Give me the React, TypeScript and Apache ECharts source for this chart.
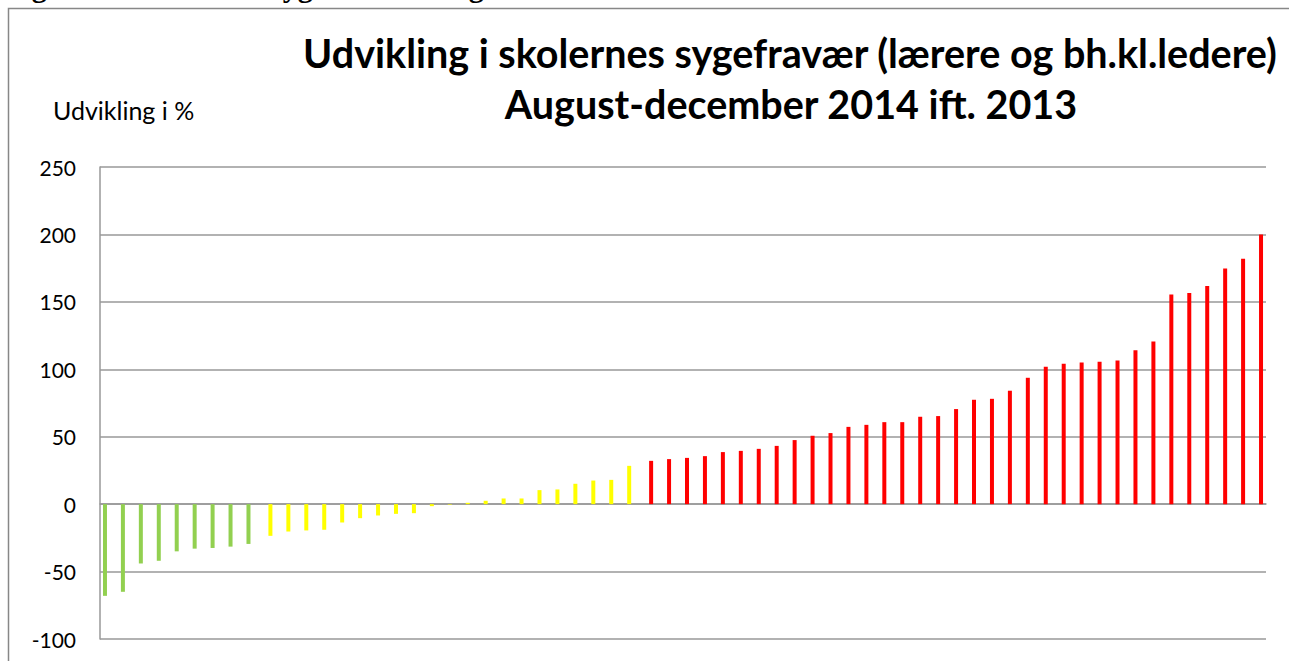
import React, { useEffect, useRef } from "react";
import * as echarts from "echarts";

const greenValues = [-68, -65, -44, -42, -35, -33, -32.5, -31.5, -29.5];
const yellowValues = [
  -23.5, -20.3, -19.5, -19, -13.6, -10.4, -8.4, -7.2, -6.7, -1.5, -0.4, 1, 2.5,
  4.2, 4.2, 10.4, 10.9, 15.1, 17.5, 18, 28.4,
];
const redValues = [
  32.1, 33.4, 34.3, 35.6, 38.6, 39.5, 41, 43.2, 47.5, 50.7, 52.7, 57.3, 58.8,
  60.8, 60.8, 64.8, 65.3, 70.5, 77.4, 78.1, 84.1, 93.7, 101.9, 104.1, 105,
  105.6, 106.5, 114.2, 120.6, 155.5, 156.5, 161.7, 174.8, 182, 200,
];
const yTicks = [-100, -50, 0, 50, 100, 150, 200, 250];
const titleLines = [
  "Udvikling i skolernes sygefravær (lærere og bh.kl.ledere)",
  "August-december 2014 ift. 2013",
];
const yAxisTitle = "Udvikling i %";
const captionText = "Figur 3.7: Skolernes sygefravær i august-december 2014 ift. 2013";

const total = greenValues.length + yellowValues.length + redValues.length;
const categories = Array.from({ length: total }, (_, i) => String(i + 1));

function place(values: number[], offset: number): (number | null)[] {
  const arr: (number | null)[] = new Array(total).fill(null);
  values.forEach((v, i) => {
    arr[offset + i] = v;
  });
  return arr;
}

export default function App() {
  const ref = useRef<HTMLDivElement>(null);
  useEffect(() => {
    if (!ref.current) return;
    const chart = echarts.init(ref.current, null, { renderer: "svg" });
    const font = "Lato, 'Open Sans', sans-serif";
    chart.setOption({
      animation: false,
      backgroundColor: "#ffffff",
      grid: { left: 100, right: 23, top: 167, bottom: 22, containLabel: false },
      xAxis: {
        type: "category",
        data: categories,
        boundaryGap: true,
        axisLine: { show: true, onZero: true, lineStyle: { color: "#989898", width: 1.5 } },
        axisTick: { show: false },
        axisLabel: { show: false },
        splitLine: { show: false },
      },
      yAxis: {
        type: "value",
        min: yTicks[0],
        max: yTicks[yTicks.length - 1],
        interval: 50,
        axisLine: { show: true, lineStyle: { color: "#989898", width: 1.5 } },
        axisTick: { show: false },
        axisLabel: {
          color: "#000",
          fontFamily: font,
          fontSize: 21,
          margin: 24,
        },
        splitLine: { show: true, lineStyle: { color: "#989898", width: 1.5 } },
      },
      series: [
        {
          type: "bar",
          data: place(greenValues, 0),
          barWidth: 4,
          barGap: "0%",
          itemStyle: { color: "#92D050" },
        },
        {
          type: "bar",
          data: place(yellowValues, greenValues.length),
          barWidth: 4,
          barGap: "0%",
          itemStyle: { color: "#FFFF00" },
        },
        {
          type: "bar",
          data: place(redValues, greenValues.length + yellowValues.length),
          barWidth: 4,
          barGap: "0%",
          itemStyle: { color: "#FF0000" },
        },
      ],
      graphic: [
        {
          type: "rect",
          shape: { x: 8.5, y: 8.5, width: 1400, height: 900 },
          style: { fill: "none", stroke: "#878787", lineWidth: 1.5 },
          silent: true,
        },
        {
          type: "text",
          x: 5,
          y: -29,
          style: {
            text: captionText,
            font: "bold 30px 'Liberation Serif', 'Times New Roman', serif",
            fill: "#000",
          },
        },
        {
          type: "text",
          x: 790,
          y: 52,
          style: {
            text: titleLines[0],
            font: `bold 39.5px ${font}`,
            fill: "#000",
            align: "center",
            verticalAlign: "middle",
          },
        },
        {
          type: "text",
          x: 791,
          y: 103,
          style: {
            text: titleLines[1],
            font: `bold 39.5px ${font}`,
            fill: "#000",
            align: "center",
            verticalAlign: "middle",
          },
        },
        {
          type: "text",
          x: 53,
          y: 110,
          style: {
            text: yAxisTitle,
            font: `25px ${font}`,
            fill: "#000",
            align: "left",
            verticalAlign: "middle",
          },
        },
      ],
    });
    return () => chart.dispose();
  }, []);
  return (
    <div
      ref={ref}
      style={{ position: "fixed", left: 0, top: 0, width: 1289, height: 661 }}
    />
  );
}
